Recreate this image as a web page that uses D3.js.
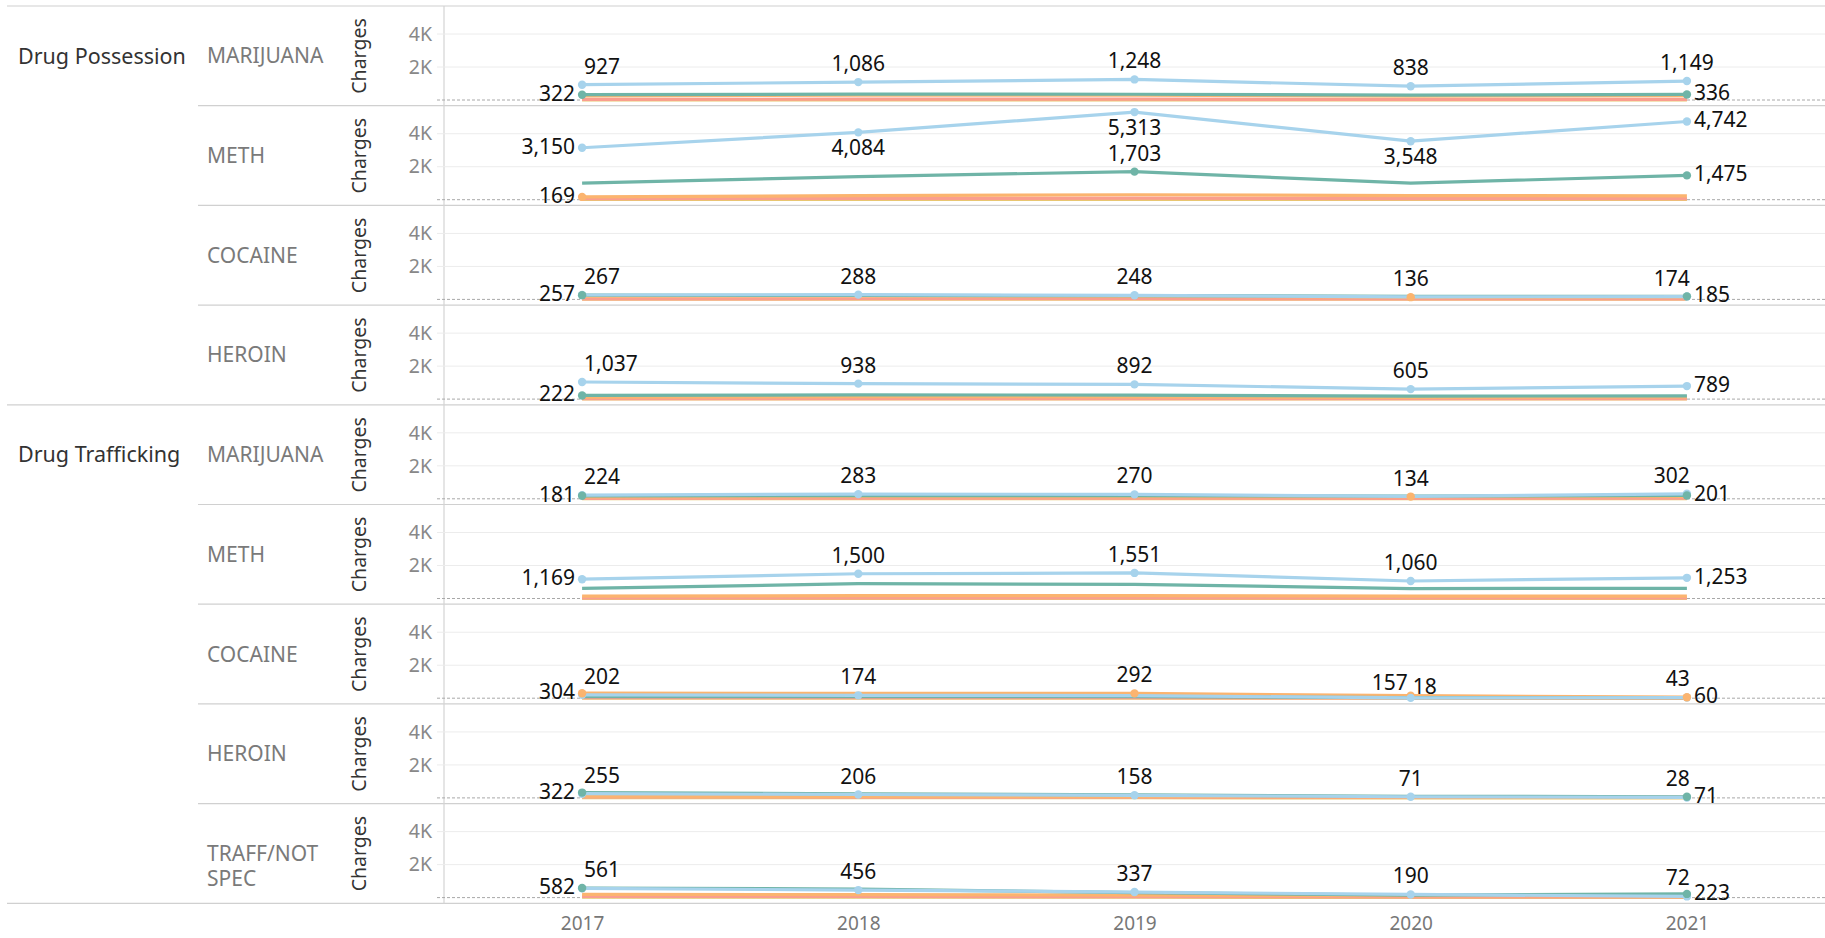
<!DOCTYPE html>
<html>
<head>
<meta charset="utf-8">
<script src="https://cdn.jsdelivr.net/npm/d3@7"></script>
<style>
  body { margin: 0; background: #fff; }
  svg { font-family: "Noto Sans", sans-serif; }
</style>
</head>
<body>
<svg id="chart" width="1825" height="938"></svg>
<script>
// ---- data ----
var years = [2017, 2018, 2019, 2020, 2021];
var groupNames = ["Drug Possession", "Drug Trafficking"];
var rowGroup = [0, 0, 0, 0, 1, 1, 1, 1, 1];
var rowDrug = ["MARIJUANA", "METH", "COCAINE", "HEROIN", "MARIJUANA", "METH", "COCAINE", "HEROIN", "TRAFF/NOT SPEC"];
var yTicks = [2000, 4000];

// one array per coloured series, one row per drug panel, one value per year
var blueCharges = [
  [927, 1086, 1248, 838, 1149],
  [3150, 4084, 5313, 3548, 4742],
  [267, 288, 248, 150, 174],
  [1037, 938, 892, 605, 789],
  [224, 283, 270, 150, 302],
  [1169, 1500, 1551, 1060, 1253],
  [202, 174, 160, 18, 43],
  [255, 206, 158, 71, 28],
  [561, 456, 337, 190, 72]
];
var tealCharges = [
  [322, 360, 350, 300, 336],
  [1000, 1400, 1703, 1000, 1475],
  [257, 240, 230, 190, 185],
  [222, 260, 240, 180, 200],
  [181, 190, 185, 170, 201],
  [610, 900, 860, 600, 620],
  [100, 90, 90, 40, 30],
  [322, 250, 180, 100, 71],
  [582, 520, 300, 150, 223]
];
var orangeCharges = [
  [250, 290, 300, 230, 260],
  [169, 250, 300, 250, 230],
  [200, 210, 190, 136, 150],
  [120, 150, 140, 110, 130],
  [120, 140, 130, 134, 150],
  [150, 170, 170, 150, 150],
  [304, 300, 292, 157, 60],
  [100, 90, 80, 40, 30],
  [200, 180, 150, 120, 100]
];
var yellowCharges = [
  [10, 10, 10, 10, 10],
  [20, 20, 20, 20, 20],
  [10, 10, 10, 10, 10],
  [10, 10, 10, 10, 10],
  [10, 10, 10, 10, 10],
  [10, 10, 10, 10, 10],
  [10, 10, 10, 10, 10],
  [20, 20, 10, 0, 0],
  [20, 20, 20, 10, 10]
];
var salmonCharges = [
  [40, 50, 50, 30, 40],
  [60, 80, 90, 70, 60],
  [30, 40, 40, 30, 30],
  [30, 30, 30, 20, 20],
  [30, 40, 40, 30, 40],
  [30, 40, 40, 30, 30],
  [40, 40, 30, 20, 20],
  [60, 50, 40, 30, 30],
  [80, 70, 60, 50, 40]
];

// labelled points: [row, series, year index, placement]
var pointLabels = [
  [0, "blue", 0, "aboveRight"], [0, "blue", 1, "above"], [0, "blue", 2, "above"], [0, "blue", 3, "above"], [0, "blue", 4, "above"],
  [0, "teal", 0, "left"], [0, "teal", 4, "right"],
  [1, "blue", 0, "left"], [1, "blue", 1, "below"], [1, "blue", 2, "below"], [1, "blue", 3, "below"], [1, "blue", 4, "right"],
  [1, "teal", 2, "above"], [1, "teal", 4, "right"], [1, "orange", 0, "left"],
  [2, "blue", 0, "aboveRight"], [2, "blue", 1, "above"], [2, "blue", 2, "above"], [2, "orange", 3, "above"], [2, "blue", 4, "aboveLeft"],
  [2, "teal", 0, "left"], [2, "teal", 4, "right"],
  [3, "blue", 0, "aboveRight"], [3, "blue", 1, "above"], [3, "blue", 2, "above"], [3, "blue", 3, "above"], [3, "blue", 4, "right"],
  [3, "teal", 0, "left"],
  [4, "blue", 0, "aboveRight"], [4, "blue", 1, "above"], [4, "blue", 2, "above"], [4, "orange", 3, "above"], [4, "blue", 4, "aboveLeft"],
  [4, "teal", 0, "left"], [4, "teal", 4, "right"],
  [5, "blue", 0, "left"], [5, "blue", 1, "above"], [5, "blue", 2, "above"], [5, "blue", 3, "above"], [5, "blue", 4, "right"],
  [6, "blue", 0, "aboveRight"], [6, "blue", 1, "above"], [6, "orange", 2, "above"], [6, "orange", 3, "lowLeft"], [6, "blue", 3, "lowRight"], [6, "blue", 4, "aboveLeft"],
  [6, "orange", 0, "left"], [6, "orange", 4, "right"],
  [7, "blue", 0, "aboveRight"], [7, "blue", 1, "above"], [7, "blue", 2, "above"], [7, "blue", 3, "above"], [7, "blue", 4, "aboveLeft"],
  [7, "teal", 0, "left"], [7, "teal", 4, "right"],
  [8, "blue", 0, "aboveRight"], [8, "blue", 1, "above"], [8, "blue", 2, "above"], [8, "blue", 3, "above"], [8, "blue", 4, "aboveLeft"],
  [8, "teal", 0, "left"], [8, "teal", 4, "right"]
];

// ---- layout ----
var seriesData = {blue: blueCharges, teal: tealCharges, orange: orangeCharges, yellow: yellowCharges, salmon: salmonCharges};
var drawOrder = ["yellow", "salmon", "orange", "teal", "blue"];
var colour = d3.scaleOrdinal()
  .domain(["blue", "teal", "orange", "yellow", "salmon"])
  .range(["#a7d3ec", "#6fb4a7", "#fbb46f", "#e8c670", "#fa9e8e"]);

var svg = d3.select("#chart");
var top0 = 6, rowH = 99.7, plotLeft = 444, right = 1825;
var nRows = rowDrug.length;

function rowTop(i) { return top0 + i * rowH; }

var x = d3.scalePoint().domain(years).range([plotLeft, right]).padding(0.5);

function yScale(i) {
  return d3.scaleLinear().domain([0, 5700]).range([rowTop(i) + 94, rowTop(i)]);
}

var fmt = d3.format(",");

// row separators
var seps = svg.append("g");
for (var i = 0; i <= nRows; i++) {
  var fullWidth = (i == 0 || i == nRows || rowGroup[i] != rowGroup[i - 1]);
  seps.append("line")
    .attr("x1", fullWidth ? 7 : 198).attr("x2", right)
    .attr("y1", rowTop(i)).attr("y2", rowTop(i))
    .style("stroke", "#d0d0d0").style("stroke-width", 1.2);
}

// vertical axis line
svg.append("line")
  .attr("x1", plotLeft).attr("x2", plotLeft)
  .attr("y1", rowTop(0)).attr("y2", rowTop(nRows))
  .style("stroke", "#d4d4d4").style("stroke-width", 1.2);

// group headers
groupNames.forEach(function(g, gi) {
  var first = rowGroup.indexOf(gi);
  svg.append("text")
    .attr("x", 18).attr("y", rowTop(first) + 50)
    .attr("dy", "0.35em")
    .style("font-size", "21.5px").style("fill", "#333")
    .text(g);
});

var lineFn = function(ys) {
  return d3.line()
    .x(function(d, k) { return x(years[k]); })
    .y(function(d) { return ys(d); });
};

rowDrug.forEach(function(drug, i) {
  var ys = yScale(i);
  var g = svg.append("g");

  // drug header, wraps like the original
  var words = drug.indexOf("/") > -1 ? drug.split(" ") : [drug];
  words.forEach(function(w, wi) {
    g.append("text")
      .attr("x", 207).attr("y", rowTop(i) + 50 + wi * 25)
      .attr("dy", "0.35em")
      .style("font-size", "21px").style("fill", "#7a7a7a")
      .text(w);
  });

  // axis title
  g.append("text")
    .attr("transform", "translate(366," + (rowTop(i) + 50) + ") rotate(-90)")
    .attr("text-anchor", "middle")
    .style("font-size", "19.5px").style("fill", "#333")
    .text("Charges");

  // grid
  g.selectAll(".grid").data(yTicks).enter().append("line")
    .attr("x1", 437).attr("x2", right)
    .attr("y1", function(d) { return ys(d); }).attr("y2", function(d) { return ys(d); })
    .style("stroke", "#ececec").style("stroke-width", 1);
  g.append("line")
    .attr("x1", 437).attr("x2", right)
    .attr("y1", ys(0)).attr("y2", ys(0))
    .style("stroke", "#a8a8a8").style("stroke-width", 1)
    .style("stroke-dasharray", "3,2");

  // y axis
  var yAxis = d3.axisLeft(ys).tickValues(yTicks).tickSize(0).tickPadding(12)
    .tickFormat(function(d) { return d / 1000 + "K"; });
  var ag = g.append("g").attr("transform", "translate(" + plotLeft + ",0)").call(yAxis);
  ag.select(".domain").remove();
  ag.selectAll("text").style("font-size", "19.5px").style("fill", "#888")
    .style("font-family", "Noto Sans, sans-serif");

  // series lines
  drawOrder.forEach(function(s) {
    g.append("path")
      .datum(seriesData[s][i])
      .attr("d", lineFn(ys))
      .style("fill", "none")
      .style("stroke", colour(s))
      .style("stroke-width", 3.2)
      .style("stroke-linejoin", "round");
  });
});

// dots and labels
var labelLayer = svg.append("g");
pointLabels.forEach(function(p) {
  var row = p[0], s = p[1], k = p[2], where = p[3];
  var ys = yScale(row);
  var v = seriesData[s][row][k];
  var cx = x(years[k]), cy = ys(v);
  labelLayer.append("circle")
    .attr("cx", cx).attr("cy", cy).attr("r", 4.2)
    .style("fill", colour(s));

  var t = labelLayer.append("text")
    .style("font-size", "21px").style("fill", "#111")
    .text(fmt(v));
  if (where == "above") {
    t.attr("x", cx).attr("y", cy - 11).attr("text-anchor", "middle");
  } else if (where == "below") {
    t.attr("x", cx).attr("y", cy + 23).attr("text-anchor", "middle");
  } else if (where == "left") {
    t.attr("x", cx - 7).attr("y", cy + 6).attr("text-anchor", "end");
  } else if (where == "right") {
    t.attr("x", cx + 7).attr("y", cy + 6).attr("text-anchor", "start");
  } else if (where == "aboveRight") {
    t.attr("x", cx + 2).attr("y", cy - 11).attr("text-anchor", "start");
  } else if (where == "aboveLeft") {
    t.attr("x", cx + 3).attr("y", cy - 11).attr("text-anchor", "end");
  } else if (where == "lowLeft") {
    t.attr("x", cx - 3).attr("y", cy - 6).attr("text-anchor", "end");
  } else if (where == "lowRight") {
    t.attr("x", cx + 2).attr("y", cy - 4).attr("text-anchor", "start");
  }
});

// x axis
var xAxis = d3.axisBottom(x).tickSize(0).tickPadding(0).tickFormat(d3.format("d"));
var xg = svg.append("g").attr("transform", "translate(0," + (rowTop(nRows) + 13) + ")").call(xAxis);
xg.select(".domain").remove();
xg.selectAll("text").style("font-size", "19px").style("fill", "#777")
  .style("font-family", "Noto Sans, sans-serif");
</script>
</body>
</html>
